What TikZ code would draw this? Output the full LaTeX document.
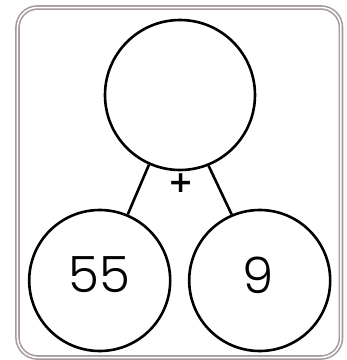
\documentclass[tikz,border=0pt]{standalone}
\usepackage{fontspec}
\newfontfamily\numfont{Poppins}[UprightFont=* Light]
\newfontfamily\plusfont{DejaVu Sans}[UprightFont=* Bold]
\definecolor{framegray}{HTML}{A69A9A}
\begin{document}
\begin{tikzpicture}[x=1pt,y=-1pt,
  bubble/.style={circle,draw=black,line width=2.6pt,inner sep=0pt},
  num/.style={font=\numfont\fontsize{50}{50}\selectfont},
  link/.style={line width=2.6pt}]
\useasboundingbox (0,0) rectangle (347,360);
\draw[framegray,line width=1.6pt,double=white,double distance=1.5pt,rounded corners=20pt]
  (17.5,7.5) rectangle (341,357.5);
\node[bubble,minimum size=150pt] (top) at (180,95) {};
\node[bubble,minimum size=141pt] (left) at (99.7,280.5) {};
\node[bubble,minimum size=141pt] (right) at (259.7,280.5) {};
\node[num] (n55) at (99.7,274.5) {55};
\node[num] (n9) at (258.5,275.5) {9};
\node[font=\plusfont\fontsize{30}{30}\selectfont] (plus) at (180.7,183.5) {+};
\draw[link] (top.246.5) -- (left.67.4);
\draw[link] (top.292.9) -- (right.113.3);
\end{tikzpicture}
\end{document}
